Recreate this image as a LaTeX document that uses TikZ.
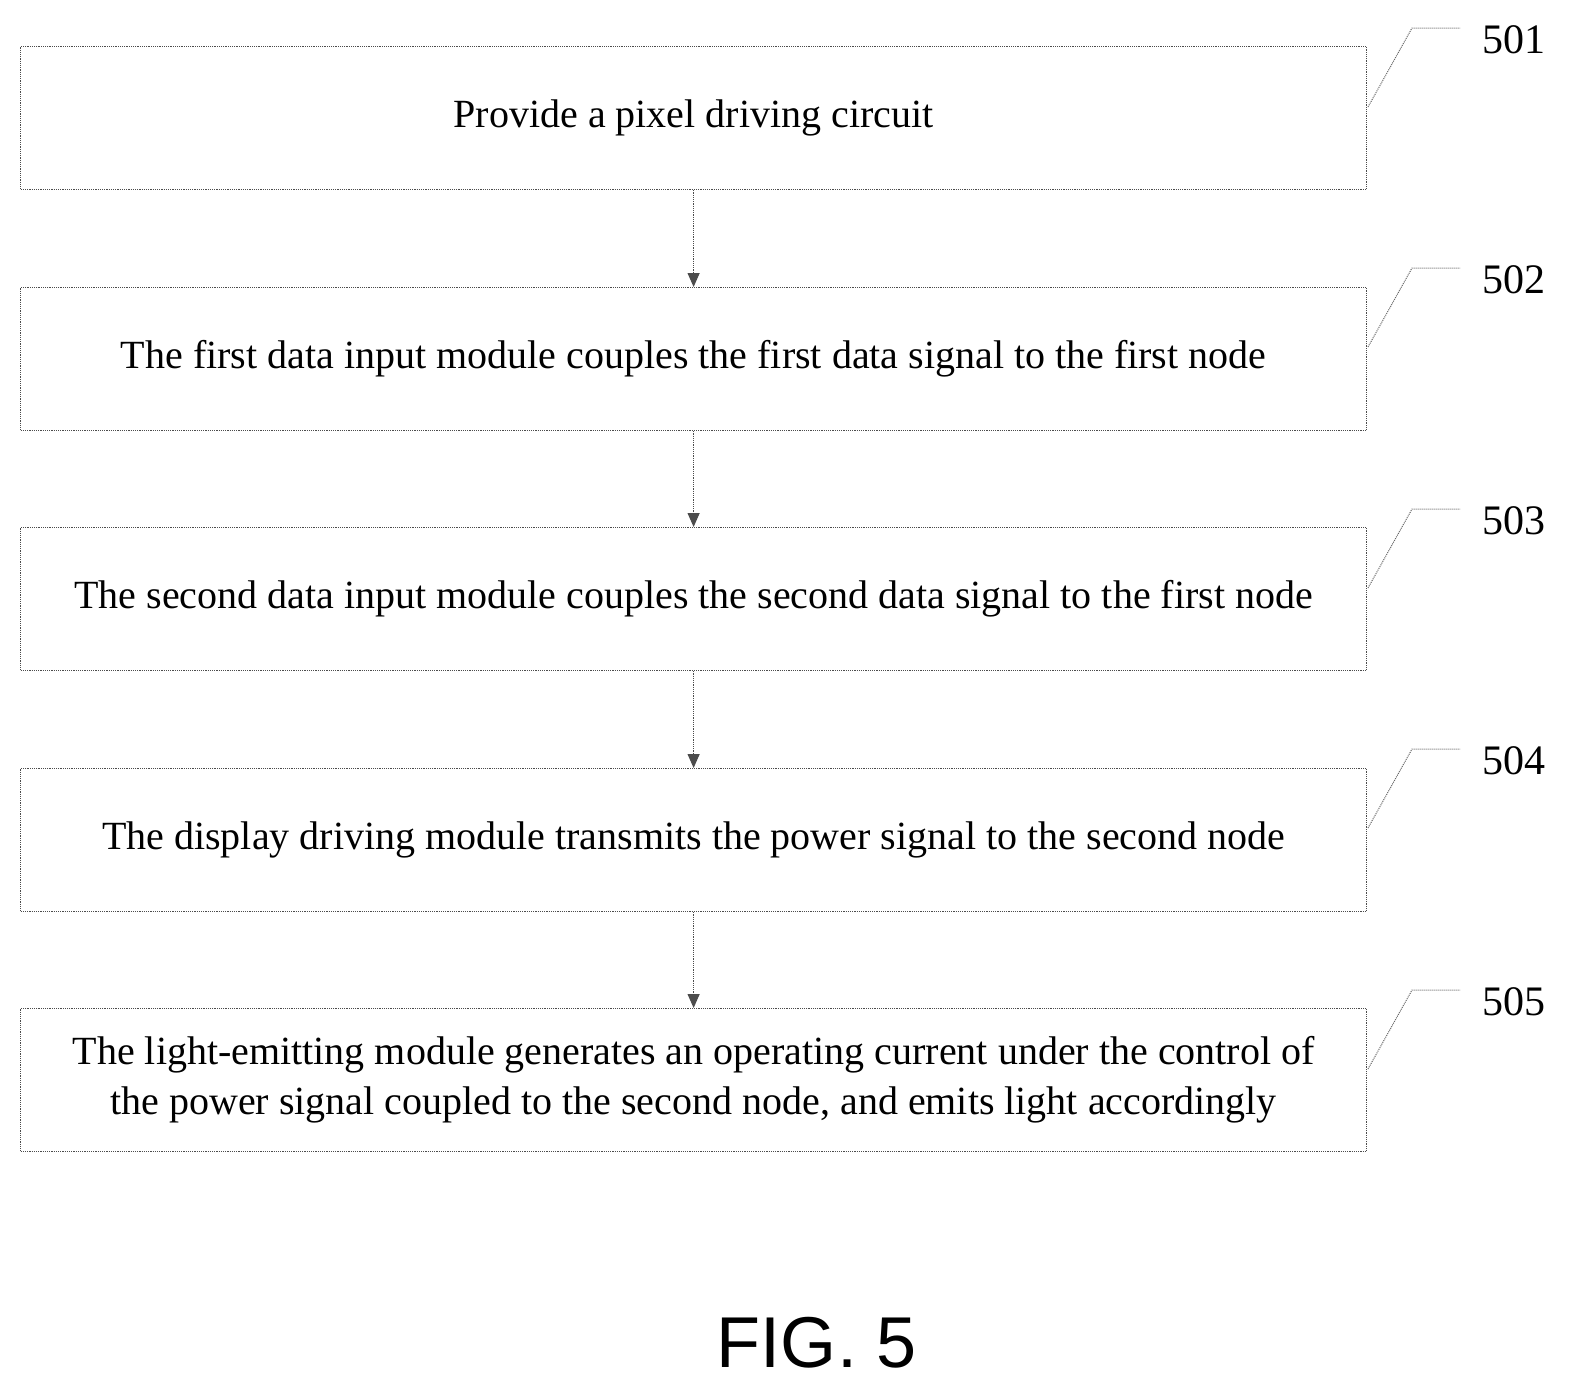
\documentclass[tikz,border=0pt]{standalone}
\usepackage{fontspec}
\setmainfont{Liberation Serif}
\setsansfont{Liberation Sans}
\usetikzlibrary{arrows.meta}
\begin{document}
\begin{tikzpicture}[x=1pt,y=-1pt,
  box/.style={draw=black!70,densely dotted,line width=1.2pt,minimum width=1346pt,minimum height=143pt,anchor=north west,inner sep=0pt,align=center,font=\fontsize{40}{50}\selectfont},
  arr/.style={draw=black!70,densely dotted,line width=1.2pt,-{Triangle[length=14pt,width=12pt]}},
  lead/.style={draw=black!60,densely dotted,line width=1pt},
  num/.style={font=\fontsize{42}{44}\selectfont,anchor=center}]
\useasboundingbox (0,0) rectangle (1580,1400);
\node[box] (b1) at (20,46) {Provide a pixel driving circuit};
\node[box] (b2) at (20,287) {The first data input module couples the first data signal to the first node};
\node[box] (b3) at (20,527) {The second data input module couples the second data signal to the first node};
\node[box] (b4) at (20,768) {The display driving module transmits the power signal to the second node};
\node[box] (b5) at (20,1008) {The light-emitting module generates an operating current under the control of\\the power signal coupled to the second node, and emits light accordingly};
\foreach \a/\b in {b1/b2,b2/b3,b3/b4,b4/b5} \draw[arr] (\a.south) -- (\b.north);
\foreach \i/\yy in {1/0,2/240,3/481,4/721,5/962}{
  \coordinate (p\i) at (1368,107+\yy);
  \coordinate (q\i) at (1412,28+\yy);
  \coordinate (r\i) at (1460,28+\yy);
  \draw[lead] (p\i) -- (q\i) -- (r\i);
  \node[num] (n\i) at (1514,40+\yy) {50\i};
}
\node[font=\sffamily\fontsize{72}{72}\selectfont] (fig) at (817,1343) {FIG. 5};
\end{tikzpicture}
\end{document}
